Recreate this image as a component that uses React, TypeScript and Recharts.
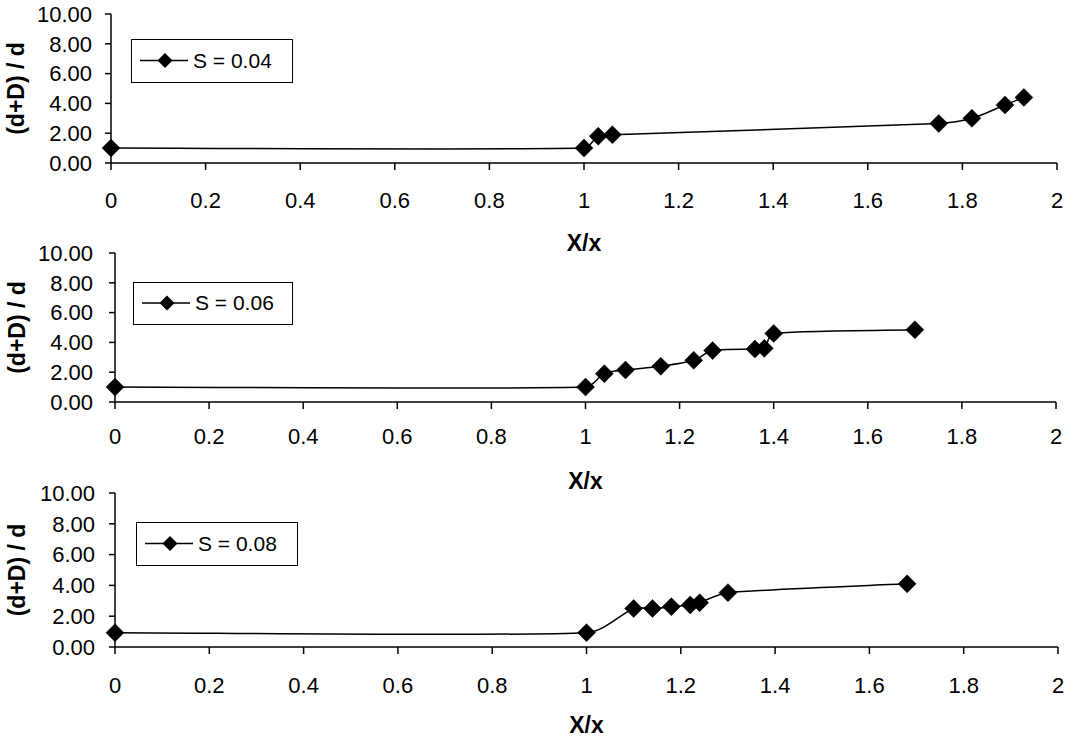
import React from 'react';
import { LineChart, Line, XAxis, YAxis, Legend } from 'recharts';

// ---------- data ----------
const xTicks = [0, 0.2, 0.4, 0.6, 0.8, 1, 1.2, 1.4, 1.6, 1.8, 2];
const xTickLabels = ['0', '0.2', '0.4', '0.6', '0.8', '1', '1.2', '1.4', '1.6', '1.8', '2'];
const yTicks = [0, 2, 4, 6, 8, 10];
const yTickLabels = ['0.00', '2.00', '4.00', '6.00', '8.00', '10.00'];

const seriesNames = ['S = 0.04', 'S = 0.06', 'S = 0.08'];

const x004 = [0, 1.0, 1.03, 1.06, 1.75, 1.82, 1.89, 1.93];
const y004 = [1.0, 1.0, 1.8, 1.9, 2.65, 3.0, 3.9, 4.4];

const x006 = [0, 1.0, 1.04, 1.085, 1.16, 1.23, 1.27, 1.36, 1.38, 1.4, 1.7];
const y006 = [1.0, 1.0, 1.9, 2.15, 2.4, 2.8, 3.45, 3.55, 3.6, 4.6, 4.85];

const x008 = [0, 1.0, 1.1, 1.14, 1.18, 1.22, 1.24, 1.3, 1.68];
const y008 = [0.93, 0.93, 2.5, 2.5, 2.62, 2.73, 2.88, 3.53, 4.1];

const xLabel = 'X/x';
const yLabel = '(d+D) / d';

const FONT = '"Liberation Sans", Arial, sans-serif';

const zip = (xs: number[], ys: number[]) => xs.map((x, i) => ({ x, y: ys[i] }));

// Excel-like smoothed line: Catmull-Rom Bezier handles, each capped to a third
// of its own segment length so that uneven spacing does not create loops.
function excelSmooth(context: any) {
  let pts: number[][] = [];
  const handle = (a: number[], b: number[], cap: number) => {
    const dx = (b[0] - a[0]) / 6;
    const dy = (b[1] - a[1]) / 6;
    const l = Math.hypot(dx, dy);
    if (l <= cap || l === 0) return [dx, dy];
    return [(dx / l) * cap, (dy / l) * cap];
  };
  return {
    areaStart() {},
    areaEnd() {},
    lineStart() {
      pts = [];
    },
    point(x: number, y: number) {
      pts.push([+x, +y]);
    },
    lineEnd() {
      if (!pts.length) return;
      context.moveTo(pts[0][0], pts[0][1]);
      for (let i = 0; i < pts.length - 1; i++) {
        const p0 = pts[i - 1] || pts[i];
        const p1 = pts[i];
        const p2 = pts[i + 1];
        const p3 = pts[i + 2] || p2;
        const cap = Math.hypot(p2[0] - p1[0], p2[1] - p1[1]) / 3;
        const h1 = handle(p0, p2, cap);
        const h2 = handle(p1, p3, cap);
        context.bezierCurveTo(p1[0] + h1[0], p1[1] + h1[1], p2[0] - h2[0], p2[1] - h2[1], p2[0], p2[1]);
      }
    },
  };
}

const Diamond = (props: any) => {
  const { cx, cy } = props;
  if (cx == null || cy == null) return null;
  const r = 9;
  return (
    <polygon
      points={`${cx},${cy - r} ${cx + r},${cy} ${cx},${cy + r} ${cx - r},${cy}`}
      fill="#000"
      stroke="#000"
      strokeWidth={0.5}
    />
  );
};

type Spec = {
  top: number;
  height: number;
  marginTop: number;
  marginRight: number;
  yAxisWidth: number;
  xAxisHeight: number;
  xTickMargin: number;
  yTickMargin: number;
  xLabelOffset: number;
  yLabelX: number;
  legend: { left: number; top: number; width: number; height: number };
};

const specs: Spec[] = [
  {
    top: 0,
    height: 262,
    marginTop: 14,
    marginRight: 15,
    yAxisWidth: 111,
    xAxisHeight: 99,
    xTickMargin: 22,
    yTickMargin: 13,
    xLabelOffset: 72,
    yLabelX: 16,
    legend: { left: 131, top: 39, width: 162, height: 44 },
  },
  {
    top: 240,
    height: 262,
    marginTop: 13,
    marginRight: 16,
    yAxisWidth: 115,
    xAxisHeight: 100,
    xTickMargin: 19,
    yTickMargin: 16,
    xLabelOffset: 71,
    yLabelX: 17,
    legend: { left: 133, top: 42, width: 160, height: 43 },
  },
  {
    top: 480,
    height: 264,
    marginTop: 13,
    marginRight: 14,
    yAxisWidth: 115,
    xAxisHeight: 97,
    xTickMargin: 23,
    yTickMargin: 14,
    xLabelOffset: 70,
    yLabelX: 16.5,
    legend: { left: 136, top: 42, width: 162, height: 44 },
  },
];

const datasets = [zip(x004, y004), zip(x006, y006), zip(x008, y008)];

const LegendBox = (props: any) => {
  const { payload, w, h } = props;
  const name = payload && payload[0] ? payload[0].value : '';
  const mid = (h - 3) / 2;
  return (
    <div
      style={{
        position: 'relative',
        boxSizing: 'border-box',
        width: w,
        height: h,
        border: '1.5px solid #000',
        background: '#fff',
        fontFamily: FONT,
        fontSize: 21,
        color: '#000',
      }}
    >
      <svg width={60} height={h - 3} style={{ position: 'absolute', left: 0, top: 0 }}>
        <line x1={8} x2={56} y1={mid} y2={mid} stroke="#000" strokeWidth={1.5} />
        <polygon points={`33,${mid - 7.5} 40.5,${mid} 33,${mid + 7.5} 25.5,${mid}`} fill="#000" />
      </svg>
      <span
        style={{
          position: 'absolute',
          left: 61,
          top: 0,
          lineHeight: `${h - 3}px`,
          whiteSpace: 'nowrap',
        }}
      >
        {name}
      </span>
    </div>
  );
};

const Panel = ({ spec, data, name }: { spec: Spec; data: { x: number; y: number }[]; name: string }) => {
  const plotBottom = spec.height - spec.xAxisHeight;
  const yCenter = (spec.marginTop + plotBottom) / 2;
  return (
    <div style={{ position: 'absolute', left: 0, top: spec.top, width: 1072, height: spec.height }}>
      <LineChart
        width={1072}
        height={spec.height}
        data={data}
        margin={{ top: spec.marginTop, right: spec.marginRight, left: 0, bottom: 0 }}
      >
        <XAxis
          type="number"
          dataKey="x"
          domain={[0, 2]}
          ticks={xTicks}
          interval={0}
          height={spec.xAxisHeight}
          tickFormatter={(v: number) => {
            const i = xTicks.findIndex((t) => Math.abs(t - v) < 1e-9);
            return i >= 0 ? xTickLabels[i] : String(v);
          }}
          tickSize={7}
          tickMargin={spec.xTickMargin}
          axisLine={{ stroke: '#000', strokeWidth: 1.5 }}
          tickLine={{ stroke: '#000', strokeWidth: 1.5 }}
          tick={{ fill: '#000', fontSize: 22, fontFamily: FONT }}
          label={{
            value: xLabel,
            position: 'insideTop',
            offset: spec.xLabelOffset,
            style: { fill: '#000', fontSize: 23, fontWeight: 'bold', fontFamily: FONT },
          }}
        />
        <YAxis
          type="number"
          domain={[0, 10]}
          ticks={yTicks}
          interval={0}
          width={spec.yAxisWidth}
          tickFormatter={(v: number) => {
            const i = yTicks.indexOf(v);
            return i >= 0 ? yTickLabels[i] : String(v);
          }}
          tickSize={6}
          tickMargin={spec.yTickMargin}
          axisLine={{ stroke: '#000', strokeWidth: 1.5 }}
          tickLine={{ stroke: '#000', strokeWidth: 1.5 }}
          tick={{ fill: '#000', fontSize: 22, fontFamily: FONT }}
          label={() => (
            <text
              x={spec.yLabelX}
              y={yCenter}
              transform={`rotate(-90, ${spec.yLabelX}, ${yCenter})`}
              textAnchor="middle"
              dominantBaseline="central"
              fill="#000"
              fontSize={23}
              fontWeight="bold"
              fontFamily={FONT}
            >
              {yLabel}
            </text>
          )}
        />
        <Legend
          layout="vertical"
          align="center"
          verticalAlign="middle"
          wrapperStyle={{
            left: spec.legend.left,
            top: spec.legend.top,
            width: spec.legend.width,
            height: spec.legend.height,
          }}
          content={(p: any) => <LegendBox {...p} w={spec.legend.width} h={spec.legend.height} />}
        />
        <Line
          name={name}
          dataKey="y"
          type={excelSmooth as any}
          stroke="#000"
          strokeWidth={1.5}
          dot={<Diamond />}
          activeDot={false}
          isAnimationActive={false}
        />
      </LineChart>
    </div>
  );
};

export default function App() {
  return (
    <div
      style={{
        position: 'absolute',
        left: 0,
        top: 0,
        width: 1072,
        height: 744,
        background: '#fff',
        fontFamily: FONT,
        overflow: 'hidden',
      }}
    >
      {specs.map((s, i) => (
        <Panel key={i} spec={s} data={datasets[i]} name={seriesNames[i]} />
      ))}
    </div>
  );
}
